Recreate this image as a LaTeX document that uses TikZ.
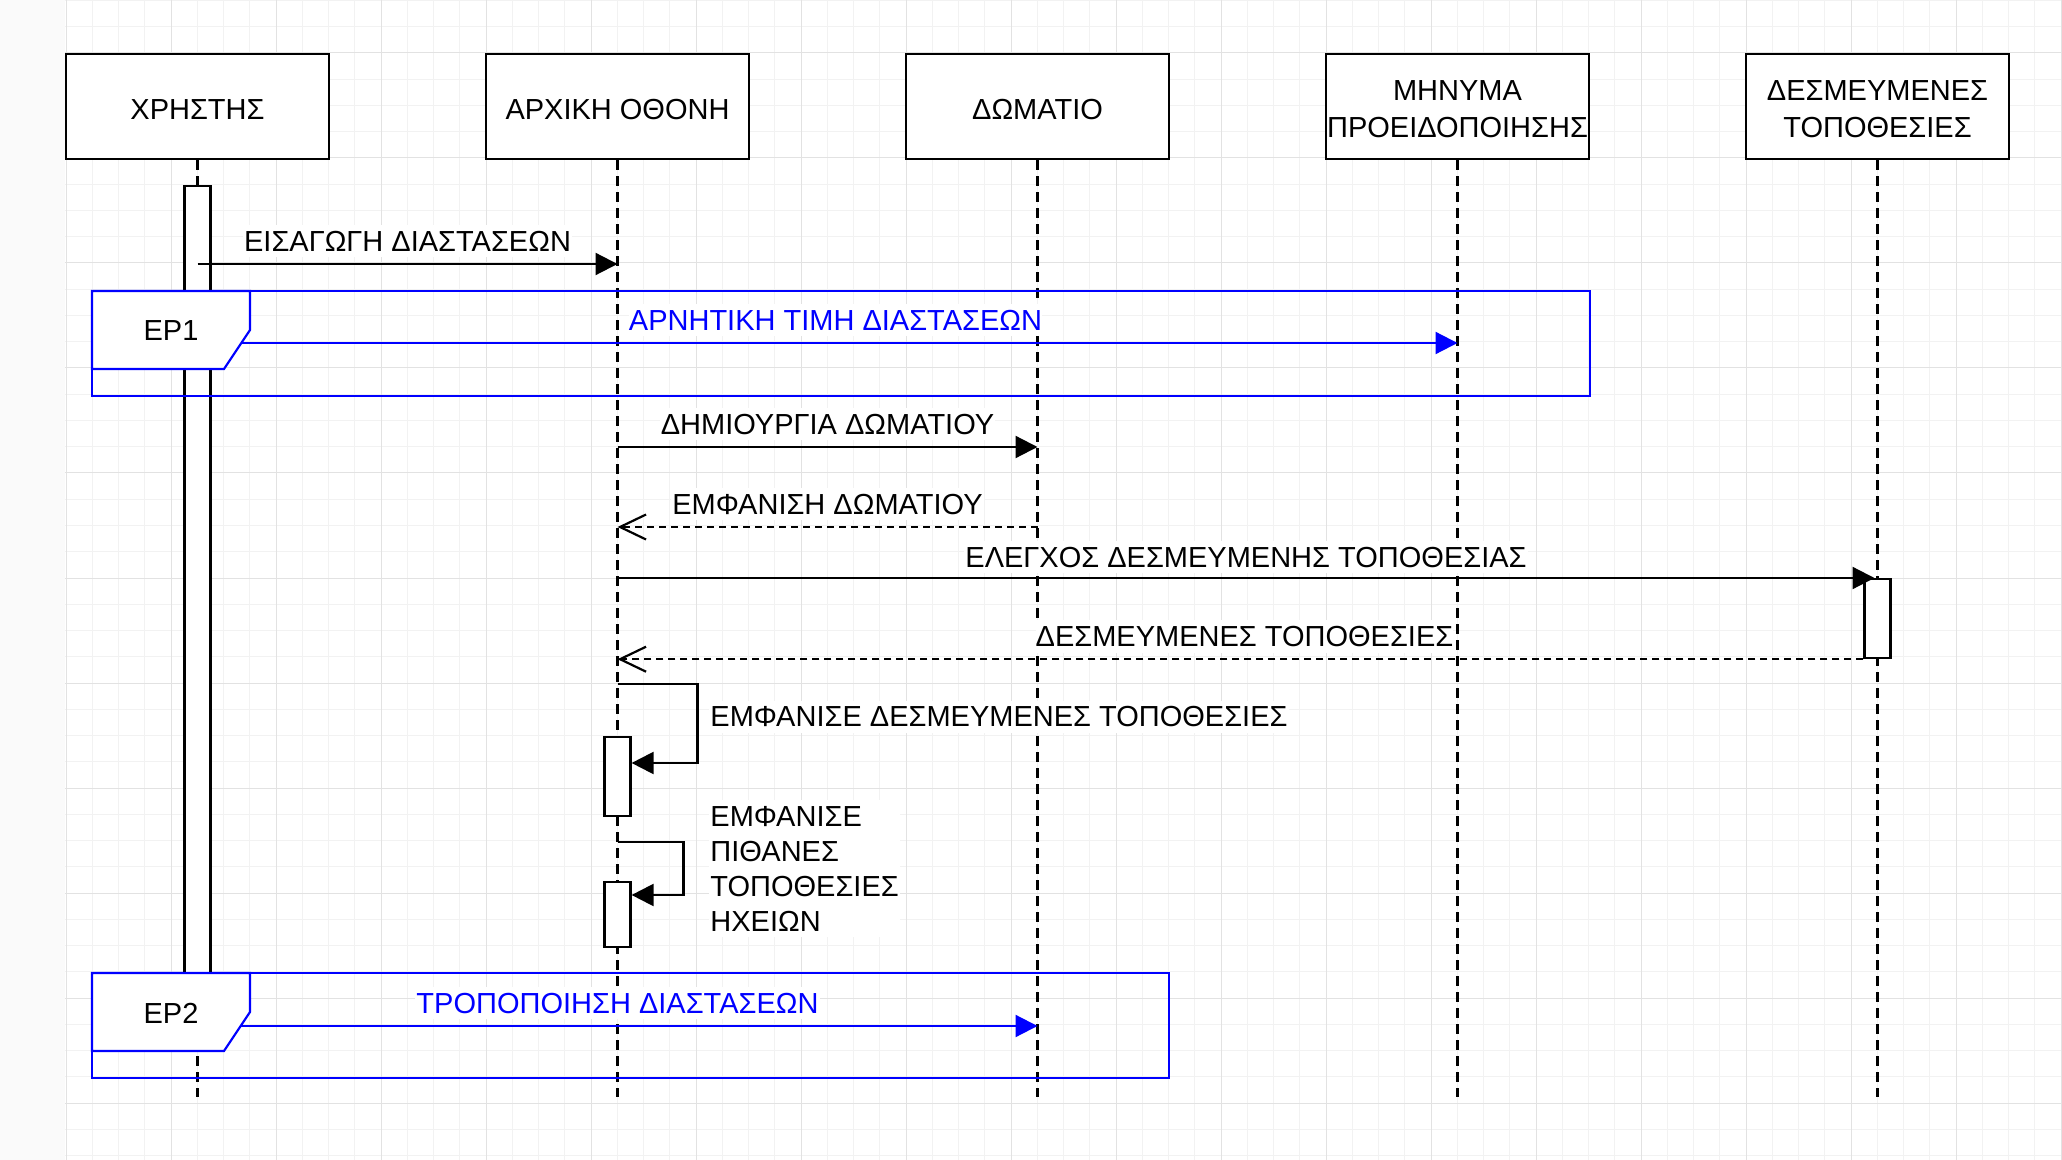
\documentclass[tikz,border=0pt]{standalone}
\usepackage{fontspec}
\setmainfont{Liberation Sans}
\usetikzlibrary{arrows.meta,chains,positioning}
\definecolor{gridmajor}{HTML}{E2E2E2}
\definecolor{gridminor}{HTML}{F2F2F2}
\definecolor{leftstrip}{HTML}{FAFAFA}

\begin{document}
\begin{tikzpicture}[
x=0.5pt, y=-0.5pt,
font=\fontsize{14.5}{17.5}\selectfont,
lifebox/.style={
  draw, fill=white, line width=1.2pt,
  minimum width=131.5pt, minimum height=52.5pt,
  inner sep=0pt
  },
lifetext/.style={
  align=center, inner sep=0pt, yshift=-1.5pt,
  font=\fontsize{14.5}{18.5}\selectfont
  },
lifeline/.style={line width=1.1pt, dash pattern=on 5pt off 3pt},
actbar/.style={draw, fill=white, line width=1.1pt, minimum width=13pt, inner sep=0pt, anchor=north},
sync/.style={line width=1.1pt, -{Triangle[length=11pt,width=11pt]}},
reply/.style={line width=1.1pt, dash pattern=on 3.5pt off 2.5pt, -{Straight Barb[length=13pt,width=12.5pt]}},
msglbl/.style={fill=white, inner xsep=0.5pt, inner ysep=3pt, text height=10.4pt, text depth=0pt, yshift=11.5pt},
sidelbl/.style={fill=white, inner xsep=0.5pt, inner ysep=3pt, anchor=west},
frame/.style={draw=blue, line width=1.1pt},
start chain=going right,
node distance=77.3pt
]
\useasboundingbox (0,0) rectangle (2062,1160);
% canvas and grid
\fill[leftstrip] (0,0) rectangle (65,1160);
\foreach \i in {0,...,76}
  \draw[gridminor, line width=0.5pt] ({66+26.25*\i},0) -- ++(0,1160);
\foreach \j in {0,...,44}
  \draw[gridminor, line width=0.5pt] (65,{0.5+26.25*\j}) -- (2062,{0.5+26.25*\j});
\foreach \i in {0,...,19}
  \draw[gridmajor, line width=0.5pt] ({66+105*\i},0) -- ++(0,1160);
\foreach \j in {0,...,10}
  \draw[gridmajor, line width=0.5pt] (65,{53+105*\j}) -- (2062,{53+105*\j});

% lifelines
\node[lifebox,on chain,label={[lifetext]center:ΧΡΗΣΤΗΣ}] (user) at (197.5,106.5) {};
\foreach \Name/\Text in {home/ΑΡΧΙΚΗ ΟΘΟΝΗ, room/ΔΩΜΑΤΙΟ,
    warn/{ΜΗΝΥΜΑ\\ΠΡΟΕΙΔΟΠΟΙΗΣΗΣ}, booked/{ΔΕΣΜΕΥΜΕΝΕΣ\\ΤΟΠΟΘΕΣΙΕΣ}}
  \node[lifebox,on chain,label={[lifetext]center:\Text}] (\Name) {};
\foreach \Name in {user,home,room,warn,booked}
  \draw[lifeline] (\Name.south) -- (\Name.south |- 0,1097);

% activations
\node[actbar,minimum height=407.5pt] (ubar) at (user.south |- 0,185) {};
\node[actbar,minimum height=39.5pt] (hbarA) at (home.south |- 0,736) {};
\node[actbar,minimum height=32.5pt] (hbarB) at (home.south |- 0,881) {};
\node[actbar,minimum height=39.5pt] (bbar) at (booked.south |- 0,578) {};

% messages
\draw[sync] (user |- 0,264) -- node[msglbl] (lblInput) {ΕΙΣΑΓΩΓΗ ΔΙΑΣΤΑΣΕΩΝ} (home |- 0,264);
\draw[sync,blue] (user |- 0,343) -- node[msglbl,text=blue,xshift=4pt,inner xsep=0pt] (lblNeg) {ΑΡΝΗΤΙΚΗ ΤΙΜΗ ΔΙΑΣΤΑΣΕΩΝ} (warn |- 0,343);
\draw[sync] (home |- 0,447) -- node[msglbl] (lblCreate) {ΔΗΜΙΟΥΡΓΙΑ ΔΩΜΑΤΙΟΥ} (room |- 0,447);
\draw[reply] (room |- 0,527) -- node[msglbl] (lblShow) {ΕΜΦΑΝΙΣΗ ΔΩΜΑΤΙΟΥ} (home |- 0,527);
\draw[sync] (home |- bbar.north) -- node[msglbl,yshift=-1pt] (lblCheck) {ΕΛΕΓΧΟΣ ΔΕΣΜΕΥΜΕΝΗΣ ΤΟΠΟΘΕΣΙΑΣ} ([xshift=-1.5pt]bbar.north);
\draw[reply] (bbar.south west) -- node[msglbl,xshift=2pt,inner xsep=0pt] (lblBooked) {ΔΕΣΜΕΥΜΕΝΕΣ ΤΟΠΟΘΕΣΙΕΣ} (home |- bbar.south west);
\draw[sync] (home |- 0,684) -- ++(80,0) |- (hbarA.east |- 0,763);
\node[sidelbl] (lblList) at (709,717) {ΕΜΦΑΝΙΣΕ ΔΕΣΜΕΥΜΕΝΕΣ ΤΟΠΟΘΕΣΙΕΣ};
\draw[sync] (home |- 0,842) -- ++(66,0) |- (hbarB.east |- 0,895);
\node[sidelbl,align=left] (lblSpeakers) at (709,868.5) {ΕΜΦΑΝΙΣΕ\\ΠΙΘΑΝΕΣ\\ΤΟΠΟΘΕΣΙΕΣ\\ΗΧΕΙΩΝ};
\draw[sync,blue] (user |- 0,1026) -- node[msglbl,text=blue] (lblEdit) {ΤΡΟΠΟΠΟΙΗΣΗ ΔΙΑΣΤΑΣΕΩΝ} (room |- 0,1026);

% alternative fragments
\foreach \Top/\Right/\Lab/\Id in {291/1590/ΕΡ1/altA, 973/1169/ΕΡ2/altB} {
  \draw[frame] (92,\Top) rectangle (\Right,\Top+105);
  \draw[frame,fill=white] (92,\Top) -- ++(158,0) -- ++(0,39) -- ++(-26,39) -- (92,\Top+78) -- cycle;
  \node (\Id) at (171,\Top+40) {\Lab};
}
\end{tikzpicture}
\end{document}
